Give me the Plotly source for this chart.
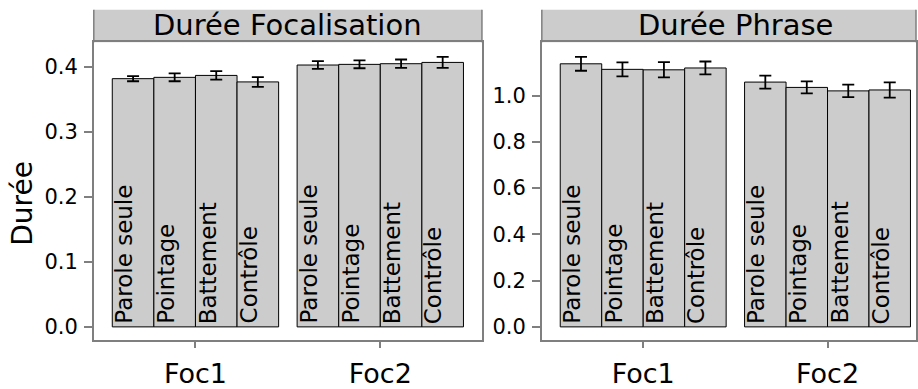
import plotly.graph_objects as go

# ---------------- data ----------------
conditions = ["Parole seule", "Pointage", "Battement", "Contrôle"]
focus_levels = ["Foc1", "Foc2"]

# Durée Focalisation (mean, error) per condition over [Foc1, Foc2]
focal_parole = [0.382, 0.403]
focal_pointage = [0.384, 0.404]
focal_battement = [0.387, 0.405]
focal_controle = [0.377, 0.407]
focal_parole_err = [0.004, 0.006]
focal_pointage_err = [0.006, 0.006]
focal_battement_err = [0.0065, 0.0065]
focal_controle_err = [0.0075, 0.0085]

# Durée Phrase
phrase_parole = [1.137, 1.058]
phrase_pointage = [1.113, 1.035]
phrase_battement = [1.111, 1.020]
phrase_controle = [1.119, 1.024]
phrase_parole_err = [0.030, 0.028]
phrase_pointage_err = [0.030, 0.026]
phrase_battement_err = [0.033, 0.027]
phrase_controle_err = [0.028, 0.033]

panel_titles = ["Durée Focalisation", "Durée Phrase"]
y_title = "Durée"
left_ticks = [0.0, 0.1, 0.2, 0.3, 0.4]
right_ticks = [0.0, 0.2, 0.4, 0.6, 0.8, 1.0]

panels = [
    ([focal_parole, focal_pointage, focal_battement, focal_controle],
     [focal_parole_err, focal_pointage_err, focal_battement_err, focal_controle_err]),
    ([phrase_parole, phrase_pointage, phrase_battement, phrase_controle],
     [phrase_parole_err, phrase_pointage_err, phrase_battement_err, phrase_controle_err]),
]

# ---------------- styling ----------------
W, H = 918, 389
FONT = "DejaVu Sans"
AXIS_GREY = "#7f7f7f"
BAR_FILL = "#cccccc"
STRIP_FILL = "#cccccc"

y_dom = [1 - 345 / H, 1 - 43 / H]
strip_top = 1 - 10 / H
x_doms = [[94 / W, 483 / W], [543 / W, 1.0]]
x_ranges = [[-0.55, 1.55], [-0.55, 1.48]]
y_ranges = [[-0.0197, 0.4379], [-0.0553, 1.2298]]
tick_sets = [left_ticks, right_ticks]

BARGAP = 0.1
n = len(conditions)
bar_w = (1 - BARGAP) / n

fig = go.Figure()
annotations = []
shapes = []

for p, (means, errs) in enumerate(panels):
    xa = "x" if p == 0 else "x2"
    ya = "y" if p == 0 else "y2"
    for i, cond in enumerate(conditions):
        fig.add_trace(go.Bar(
            x=focus_levels, y=means[i], name=cond,
            xaxis=xa, yaxis=ya, showlegend=False,
            marker=dict(color=BAR_FILL, line=dict(color="black", width=1)),
            error_y=dict(type="data", array=errs[i], color="black",
                         thickness=1.8, width=6),
            offsetgroup=str(i),
        ))
        # rotated labels inside each bar
        for c in range(len(focus_levels)):
            annotations.append(dict(
                x=c - (1 - BARGAP) / 2 + i * bar_w, y=0,
                xref=xa, yref=ya, text=cond, showarrow=False,
                textangle=-90, xanchor="left", yanchor="bottom",
                xshift=-3, yshift=1,
                font=dict(family=FONT, size=23, color="black"),
            ))
    # strip
    shapes.append(dict(type="rect", xref=f"{xa} domain", yref="paper",
                       x0=0, x1=1, y0=y_dom[1], y1=strip_top,
                       fillcolor=STRIP_FILL, line=dict(width=0), layer="below"))
    for xx in (0, 1):
        shapes.append(dict(type="line", xref=f"{xa} domain", yref="paper",
                           x0=xx, x1=xx, y0=y_dom[1], y1=strip_top,
                           line=dict(color=AXIS_GREY, width=1.5)))
    annotations.append(dict(
        x=0.5, y=(y_dom[1] + strip_top) / 2, xref=xa, yref="paper",
        text=panel_titles[p], showarrow=False, xanchor="center", yanchor="middle",
        font=dict(family=FONT, size=29, color="black"), yshift=1,
    ))

annotations.append(dict(
    x=23 / W, y=1 - 206 / H, xref="paper", yref="paper", text=y_title,
    showarrow=False, textangle=-90, xanchor="center", yanchor="middle",
    font=dict(family=FONT, size=28, color="black"),
))

layout = dict(
    width=W, height=H,
    margin=dict(l=0, r=0, t=0, b=0),
    paper_bgcolor="white", plot_bgcolor="white",
    barmode="group", bargap=BARGAP, bargroupgap=0,
    showlegend=False,
    annotations=annotations, shapes=shapes,
)
for p in range(2):
    sx = "" if p == 0 else "2"
    layout[f"xaxis{sx}"] = dict(
        domain=x_doms[p], type="category", range=x_ranges[p],
        anchor="y" + sx, showline=True, linecolor=AXIS_GREY, linewidth=1.5,
        mirror=True, ticks="outside", ticklen=7, tickcolor=AXIS_GREY, tickwidth=1.5,
        ticklabelstandoff=2,
        showgrid=False, zeroline=False,
        tickfont=dict(family=FONT, size=27, color="black"),
    )
    layout[f"yaxis{sx}"] = dict(
        domain=y_dom, range=y_ranges[p], anchor="x" + sx,
        tickvals=tick_sets[p], tickformat=".1f",
        showline=True, linecolor=AXIS_GREY, linewidth=1.5, mirror=True,
        ticks="outside", ticklen=8, tickcolor=AXIS_GREY, tickwidth=1.5,
        ticklabelstandoff=2,
        showgrid=False, zeroline=False,
        tickfont=dict(family=FONT, size=21, color="black"),
    )

fig.update_layout(**layout)
fig.write_html(
    "out.html",
    config={"displayModeBar": False},
    post_script="document.body.style.margin='0';document.body.style.overflow='hidden';",
)
